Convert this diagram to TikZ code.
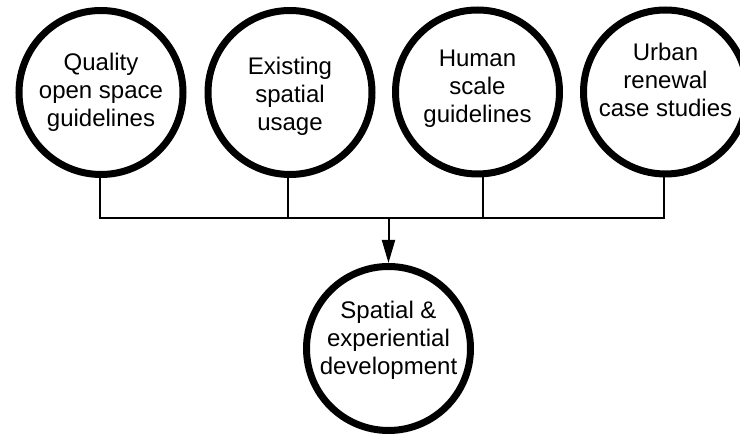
\documentclass[tikz,border=0pt]{standalone}
\usepackage{fontspec}
\setmainfont{Liberation Sans}
\usetikzlibrary{arrows.meta}

\tikzset{
  ring/.style={circle, draw=black, line width=7pt, fill=white,
               minimum size=164pt, inner sep=0pt},
  txt/.style={align=center, inner sep=0pt,
              font=\fontsize{24}{28}\selectfont},
  wire/.style={draw=black, line width=2pt},
  flow/.style={wire, -{Triangle[length=23pt, width=13pt]}}
}

\begin{document}
\begin{tikzpicture}[x=1pt, y=1pt]
  \clip (0,0) rectangle (740,-435);
  \fill[white] (0,0) rectangle (740,-435);

  % input circles
  \node[ring] (c1) at (101,-92.5) {};
  \node[ring] (c2) at (290,-92.5) {};
  \node[ring] (c3) at (477.5,-92) {};
  \node[ring] (c4) at (665.5,-92) {};
  % result circle
  \node[ring] (c5) at (388.5,-348.5) {};

  \node[txt] (t1) at (c1.center) {Quality\\open space\\guidelines};
  \node[txt] (t2) at ([yshift=-4.25pt]c2.center) {Existing\\spatial\\usage};
  \node[txt] (t3) at ([yshift=3.25pt]c3.center) {Human\\scale\\guidelines};
  \node[txt] (t4) at ([yshift=12.5pt]c4.center) {Urban\\renewal\\case studies};
  \node[txt] (t5) at ([yshift=7.75pt]c5.center) {Spatial \&\\experiential\\development};

  % collecting bus
  \coordinate (bus) at (388.5,-218.5);

  \draw[wire] ([xshift=-1pt]c1.south) |- (bus) -| ([xshift=-1.5pt]c4.south);
  \draw[wire] ([xshift=-2.5pt]c2.south) -- ([xshift=-2.5pt]c2.south |- bus);
  \draw[wire] ([xshift=5pt]c3.south) -- ([xshift=5pt]c3.south |- bus);
  \draw[flow] (bus) -- (c5.north);
\end{tikzpicture}
\end{document}
